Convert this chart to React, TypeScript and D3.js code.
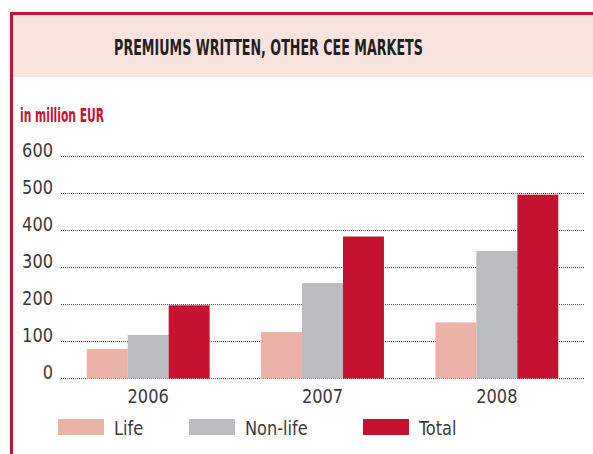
import React, { useLayoutEffect, useRef } from 'react'
import * as d3 from 'd3'

// --- data ---
const years = ['2006', '2007', '2008']
const seriesNames = ['Life', 'Non-life', 'Total']
const lifeValues = [80, 126, 152]
const nonLifeValues = [118, 258, 345]
const totalValues = [198, 384, 497]
const yTicks = [0, 100, 200, 300, 400, 500, 600]

const colors = ['#EBB2A7', '#BBBCBF', '#C41230']
const RED = '#C41230'
const INK = '#3A3A3A'
const FONT = "'Liberation Sans Narrow', 'DejaVu Sans Condensed', 'Arial Narrow', 'Liberation Sans', sans-serif"
const SQUEEZE = 0.9 // the original uses a narrower face than anything installed

const W = 593
const H = 454

// squeezes a text horizontally so it covers `width` pixels
function FitText({ x, y, width, anchor = 'start', children, ...rest }: any) {
  const ref = useRef<SVGTextElement>(null)
  useLayoutEffect(() => {
    const el = ref.current
    if (!el) return
    const natural = el.getComputedTextLength()
    const k = natural > 0 ? width / natural : 1
    el.setAttribute('transform', `translate(${x},${y}) scale(${k},1)`)
  }, [x, y, width])
  return (
    <text ref={ref} x={0} y={0} textAnchor={anchor} transform={`translate(${x},${y})`} {...rest}>
      {children}
    </text>
  )
}

// plain label with a fixed horizontal squeeze
function Label({ x, y, anchor = 'start', children }: any) {
  return (
    <text transform={`translate(${x},${y}) scale(${SQUEEZE},1)`} textAnchor={anchor}
      fontSize={20} fill={INK}>
      {children}
    </text>
  )
}

export default function App() {
  const plot = { left: 61, right: 584, top: 156.6, bottom: 378.6 }

  const x0 = d3.scaleBand<string>()
    .domain(years)
    .range([plot.left, plot.right])
    .paddingInner(0.295)
    .paddingOuter(0.1475)

  const x1 = d3.scaleBand<string>()
    .domain(seriesNames)
    .range([0, x0.bandwidth()])

  const y = d3.scaleLinear().domain([0, 600]).range([plot.bottom, plot.top])

  const rows = years.map((year, i) => ({
    year,
    values: [lifeValues[i], nonLifeValues[i], totalValues[i]],
  }))

  const legendX = [58, 189, 363]

  return (
    <div style={{ position: 'absolute', left: 0, top: 0 }}>
      <svg width={W} height={H} style={{ display: 'block', fontFamily: FONT }}>
        <rect x={0} y={0} width={W} height={H} fill="#fff" />

        {/* header band and frame */}
        <rect x={10} y={12} width={W - 10} height={65} fill="#F8E3DE" />
        <rect x={10} y={12} width={W - 10} height={3} fill={RED} />
        <rect x={10} y={12} width={3} height={H - 12} fill={RED} />

        <FitText x={268.5} y={55} width={309} anchor="middle" fontSize={22} fontWeight="bold"
          fill="#231F20">
          PREMIUMS WRITTEN, OTHER CEE MARKETS
        </FitText>

        <FitText x={20} y={122} width={84} fontSize={19} fontWeight="bold" fill={RED}>
          in million EUR
        </FitText>

        {/* gridlines and y labels */}
        {yTicks.map(t => (
          <g key={t}>
            <line x1={plot.left} x2={plot.right} y1={y(t)} y2={y(t)}
              stroke="#444" strokeWidth={1} strokeDasharray="1,1" />
            <Label x={53} y={y(t)} anchor="end">{t}</Label>
          </g>
        ))}

        {/* bars */}
        {rows.map(r => (
          <g key={r.year} transform={`translate(${x0(r.year)},0)`}>
            {r.values.map((v, j) => (
              <rect key={j} x={x1(seriesNames[j])} y={y(v)}
                width={x1.bandwidth()} height={y(0) - y(v)} fill={colors[j]} />
            ))}
            <Label x={x0.bandwidth() / 2} y={403} anchor="middle">{r.year}</Label>
          </g>
        ))}

        {/* legend */}
        {seriesNames.map((name, j) => (
          <g key={name} transform={`translate(${legendX[j]},419)`}>
            <rect x={0} y={0} width={46} height={16} fill={colors[j]} />
            <Label x={56} y={16}>{name}</Label>
          </g>
        ))}
      </svg>
    </div>
  )
}
